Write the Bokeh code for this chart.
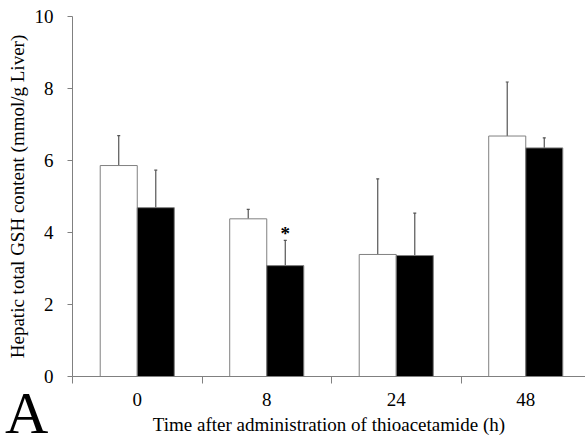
from bokeh.plotting import figure
from bokeh.layouts import column
from bokeh.models import Range1d, FixedTicker, Whisker, TeeHead, ColumnDataSource, Div
from bokeh.core.properties import value
from bokeh.embed import file_html
from bokeh.resources import INLINE

# Data
times = ["0", "8", "24", "48"]
control = [5.86, 4.38, 3.39, 6.68]
control_err = [0.83, 0.26, 2.10, 1.50]
treated = [4.69, 3.08, 3.36, 6.35]
treated_err = [1.04, 0.70, 1.18, 0.28]
significant = [False, True, False, False]
y_ticks = [0, 2, 4, 6, 8, 10]
panel_letter = "A"

FONT = "Liberation Serif"
BAR_W = 0.286
FRAME_W = 513
CAT_PX = 129.5
centers = [i + 0.5 for i in range(len(times))]

p = figure(
    frame_width=FRAME_W, frame_height=360,
    x_range=Range1d(0, FRAME_W / CAT_PX), y_range=Range1d(0, 10),
    output_backend="svg", toolbar_location=None,
    min_border_left=72, min_border_top=16, min_border_right=0, min_border_bottom=58,
)
p.outline_line_color = None
p.xgrid.visible = False
p.ygrid.visible = False
p.background_fill_color = "white"
p.border_fill_color = "white"

cx = [c - BAR_W / 2 for c in centers]
tx = [c + BAR_W / 2 for c in centers]
src = ColumnDataSource(dict(
    cx=cx, tx=tx, control=control, treated=treated,
    c_up=[v + e for v, e in zip(control, control_err)],
    t_up=[v + e for v, e in zip(treated, treated_err)],
))

p.vbar(x="cx", top="control", width=BAR_W, bottom=0, source=src,
       fill_color="white", line_color="#808080", line_width=1)
p.vbar(x="tx", top="treated", width=BAR_W, bottom=0, source=src,
       fill_color="black", line_color="#808080", line_width=1)

for base, up, xcol in [("control", "c_up", "cx"), ("treated", "t_up", "tx")]:
    w = Whisker(base=xcol, lower=base, upper=up, source=src, dimension="height",
                line_color="#555555", line_width=1.2,
                upper_head=TeeHead(size=3, line_color="#555555", line_width=1.2),
                lower_head=None)
    p.add_layout(w)

# significance marker
sx = [x for x, s in zip(tx, significant) if s]
sy = [v + e for v, e, s in zip(treated, treated_err, significant) if s]
p.text(x=sx, y=sy, text=["*"] * len(sx), text_font=value(FONT),
       text_font_size="19px", text_font_style="bold", text_align="center",
       text_baseline="bottom", y_offset=4, text_color="black")

# axes
p.yaxis.ticker = FixedTicker(ticks=y_ticks)
p.yaxis.axis_line_color = "#808080"
p.yaxis.major_tick_line_color = "#808080"
p.yaxis.major_tick_out = 5
p.yaxis.major_tick_in = 0
p.yaxis.minor_tick_line_color = None
p.yaxis.major_label_standoff = 14
p.yaxis.major_label_text_font = FONT
p.yaxis.major_label_text_font_size = "19px"
p.yaxis.major_label_text_color = "black"
p.yaxis.axis_label = "Hepatic total GSH content (mmol/g Liver)"
p.yaxis.axis_label_text_font = FONT
p.yaxis.axis_label_text_font_size = "19px"
p.yaxis.axis_label_text_font_style = "normal"
p.yaxis.axis_label_text_color = "black"
p.yaxis.axis_label_standoff = 4

p.xaxis.ticker = FixedTicker(ticks=centers, minor_ticks=[float(i) for i in range(len(times) + 1)])
p.xaxis.major_label_overrides = {c: t for c, t in zip(centers, times)}
p.xaxis.axis_line_color = "#808080"
p.xaxis.major_tick_line_color = None
p.xaxis.major_tick_out = 0
p.xaxis.major_tick_in = 0
p.xaxis.minor_tick_line_color = "#808080"
p.xaxis.minor_tick_out = 7
p.xaxis.minor_tick_in = 0
p.xaxis.major_label_standoff = 9
p.xaxis.major_label_text_font = FONT
p.xaxis.major_label_text_font_size = "19px"
p.xaxis.major_label_text_color = "black"
p.xaxis.axis_label = "Time after administration of thioacetamide (h)"
p.xaxis.axis_label_text_font = FONT
p.xaxis.axis_label_text_font_size = "19px"
p.xaxis.axis_label_text_font_style = "normal"
p.xaxis.axis_label_text_color = "black"
p.xaxis.axis_label_standoff = 5

# panel letter, overlapping the bottom-left corner of the figure
letter = Div(text=panel_letter, width=50, height=44, margin=(-46, 0, 0, 5),
             styles={"font-family": FONT, "font-size": "60px", "line-height": "44px",
                     "color": "black", "z-index": "10", "overflow": "visible"})

open("out.html", "w").write(file_html(column(p, letter), INLINE))
